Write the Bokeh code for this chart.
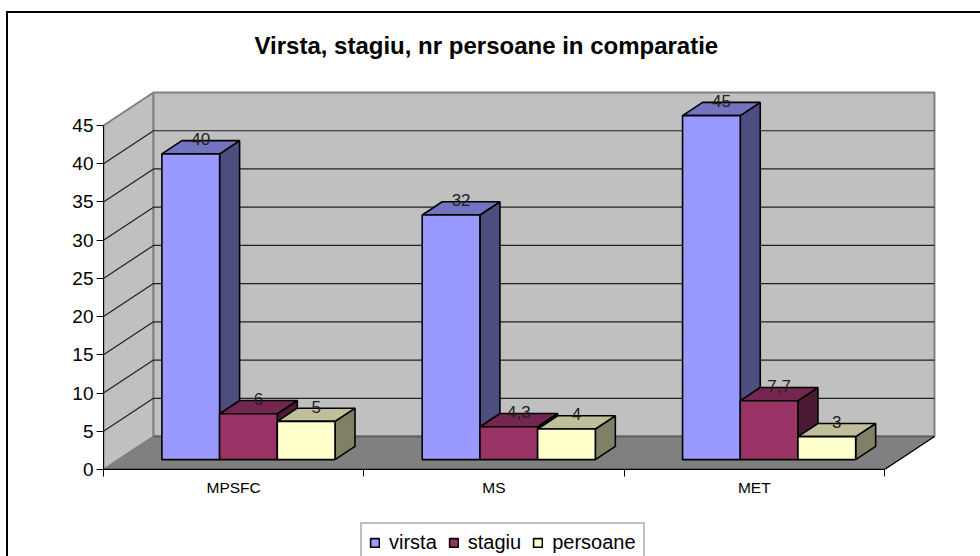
from bokeh.embed import file_html
from bokeh.resources import INLINE
from bokeh.plotting import figure
from bokeh.layouts import column
from bokeh.models import (FixedTicker, Legend, LegendItem, Title, Range1d, LinearAxis)
from bokeh.core.properties import value

categories = ["MPSFC", "MS", "MET"]
series_names = ["virsta", "stagiu", "persoane"]
virsta = [40, 32, 45]
stagiu = [6, 4.3, 7.7]
persoane = [5, 4, 3]
stagiu_labels = ["6", "4,3", "7,7"]
virsta_labels = ["40", "32", "45"]
persoane_labels = ["5", "4", "3"]
y_ticks = [0, 5, 10, 15, 20, 25, 30, 35, 40, 45]
front_colors = ["#9999FF", "#993366", "#FFFFCC"]
top_colors = ["#7373BF", "#732650", "#BFBF99"]
side_colors = ["#4D4D80", "#4D1A33", "#808066"]

# projection of the oblique 3-D view
PX_X = 260.33          # pixels per category
PX_Y = 7.644           # pixels per value unit
DEPTH_X = 50 / PX_X    # full depth in category units
DEPTH_Y = 33 / PX_Y    # full depth in value units
D0, D1 = 0.30, 0.70    # bar depth start / end
GAP = 43.4 / PX_X      # gap either side of a cluster
BAR = 57.7 / PX_X      # bar width


def proj(x, v, d):
    return x + d * DEPTH_X, v + d * DEPTH_Y


W, H, H2 = 972, 497, 46
LEFT, BOTTOM, TOP = 95, 41, 57
ymax = (H - BOTTOM - TOP) / PX_Y
xmax = (W - LEFT) / PX_X

p = figure(width=W, height=H, output_backend="svg", toolbar_location=None,
           x_range=Range1d(0, xmax), y_range=Range1d(0, ymax),
           x_axis_type=None, y_axis_type=None,
           min_border_left=LEFT, min_border_bottom=BOTTOM, min_border_top=TOP,
           min_border_right=0, outline_line_color=None)
p.grid.visible = False
p.background_fill_color = "white"

ncat = len(categories)
top_v = y_ticks[-1]


def poly(pts, fill, line=None, lw=1.0):
    xs = [a for a, _ in pts]
    ys = [b for _, b in pts]
    return p.patch(xs, ys, fill_color=fill, line_color=line if line else fill, line_width=lw)


# walls and floor
poly([proj(0, 0, 0), proj(0, 0, 1), proj(0, top_v, 1), proj(0, top_v, 0)], "#C0C0C0", "#808080", 2)
poly([proj(0, 0, 1), proj(ncat, 0, 1), proj(ncat, top_v, 1), proj(0, top_v, 1)], "#C0C0C0", "#808080", 2)
poly([proj(0, 0, 0), proj(ncat, 0, 0), proj(ncat, 0, 1), proj(0, 0, 1)], "#808080", "#808080", 1)

# gridlines
for t in y_ticks[1:-1]:
    a, b, c = proj(0, t, 0), proj(0, t, 1), proj(ncat, t, 1)
    p.line([a[0], b[0], c[0]], [a[1], b[1], c[1]], line_color="#202020", line_width=1.2)
a, b = proj(0, 0, 1), proj(ncat, 0, 1)
p.line([a[0], b[0]], [a[1], b[1]], line_color="#606060", line_width=2)
a, b, c = proj(0, 0, 0), proj(ncat, 0, 0), proj(ncat, 0, 1)
p.line([a[0], b[0], c[0]], [a[1], b[1], c[1]], line_color="black", line_width=1.3)

# bars
all_series = [virsta, stagiu, persoane]
all_labels = [virsta_labels, stagiu_labels, persoane_labels]
label_x, label_y, label_t = [], [], []
for c in range(ncat):
    for s, vals in enumerate(all_series):
        v = vals[c]
        x0 = c + GAP + s * BAR
        x1 = x0 + BAR
        poly([proj(x1, 0, D0), proj(x1, 0, D1), proj(x1, v, D1), proj(x1, v, D0)],
             side_colors[s], "black", 1.6)
        poly([proj(x0, v, D0), proj(x1, v, D0), proj(x1, v, D1), proj(x0, v, D1)],
             top_colors[s], "black", 1.6)
        bl = proj(x0, 0, D0)
        tr = proj(x1, v, D0)
        p.quad(left=[bl[0]], right=[tr[0]], bottom=[bl[1]], top=[tr[1]],
               fill_color=front_colors[s], line_color="black", line_width=1.6)
        lx, _ = proj((x0 + x1) / 2, v, (D0 + D1) / 2)
        _, ly = proj(x0, v, D1)
        label_x.append(lx)
        label_y.append(ly)
        label_t.append(all_labels[s][c])

p.text(x=label_x, y=label_y, text=label_t, text_align="center", text_baseline="middle",
       y_offset=-1.5, text_font=value("Liberation Sans"), text_font_size="17px", text_color="#202020")

# axes
yaxis = LinearAxis(bounds=(0, top_v), ticker=FixedTicker(ticks=y_ticks))
yaxis.major_tick_out = 7
yaxis.major_tick_in = 0
yaxis.minor_tick_line_color = None
yaxis.axis_line_color = "black"
yaxis.major_label_text_font = "Liberation Sans"
yaxis.major_label_text_font_size = "19px"
yaxis.major_label_text_color = "black"
yaxis.major_label_standoff = 3
p.add_layout(yaxis, "left")

xaxis = LinearAxis(bounds=(0, ncat),
                   ticker=FixedTicker(ticks=[i + 0.5 for i in range(ncat)],
                                      minor_ticks=list(range(ncat + 1))))
xaxis.major_label_overrides = {i + 0.5: categories[i] for i in range(ncat)}
xaxis.major_tick_line_color = None
xaxis.major_tick_out = 0
xaxis.major_tick_in = 0
xaxis.minor_tick_out = 7
xaxis.minor_tick_in = 0
xaxis.minor_tick_line_color = "black"
xaxis.axis_line_color = "black"
xaxis.major_label_text_font = "Liberation Sans"
xaxis.major_label_text_font_size = "15.5px"
xaxis.major_label_text_color = "black"
xaxis.major_label_standoff = 2
p.add_layout(xaxis, "below")

# title
title = Title(text="Virsta, stagiu, nr persoane in comparatie", align="left",
              text_font="Liberation Sans", text_font_size="24px", text_font_style="bold",
              text_color="black", offset=151, standoff=23)
p.add_layout(title, "above")

# legend strip
p2 = figure(width=W, height=H2, output_backend="svg", toolbar_location=None,
            x_range=Range1d(0, 1), y_range=Range1d(0, 1),
            x_axis_type=None, y_axis_type=None, min_border=0, outline_line_color=None)
p2.grid.visible = False
legend_items = []
for s, name in enumerate(series_names):
    r = p2.quad(left=[2], right=[3], bottom=[2], top=[3], fill_color=front_colors[s],
                line_color="black", line_width=1.6)
    legend_items.append(LegendItem(label=name, renderers=[r]))
legend = Legend(items=legend_items, orientation="horizontal", location=(257, -7),
                border_line_color="#808080", border_line_width=2, background_fill_color="white",
                background_fill_alpha=1, glyph_width=11, glyph_height=11,
                label_text_font="Liberation Sans", label_text_font_size="20px", label_text_color="black",
                label_standoff=9, spacing=11, margin=0, padding=7)
p2.add_layout(legend, "center")

page = column(p, p2, spacing=0,
              styles={"margin-left": "6px", "margin-top": "11px",
                      "border-left": "2px solid black", "border-top": "2px solid black"})

open("out.html", "w").write(file_html(page, INLINE))
